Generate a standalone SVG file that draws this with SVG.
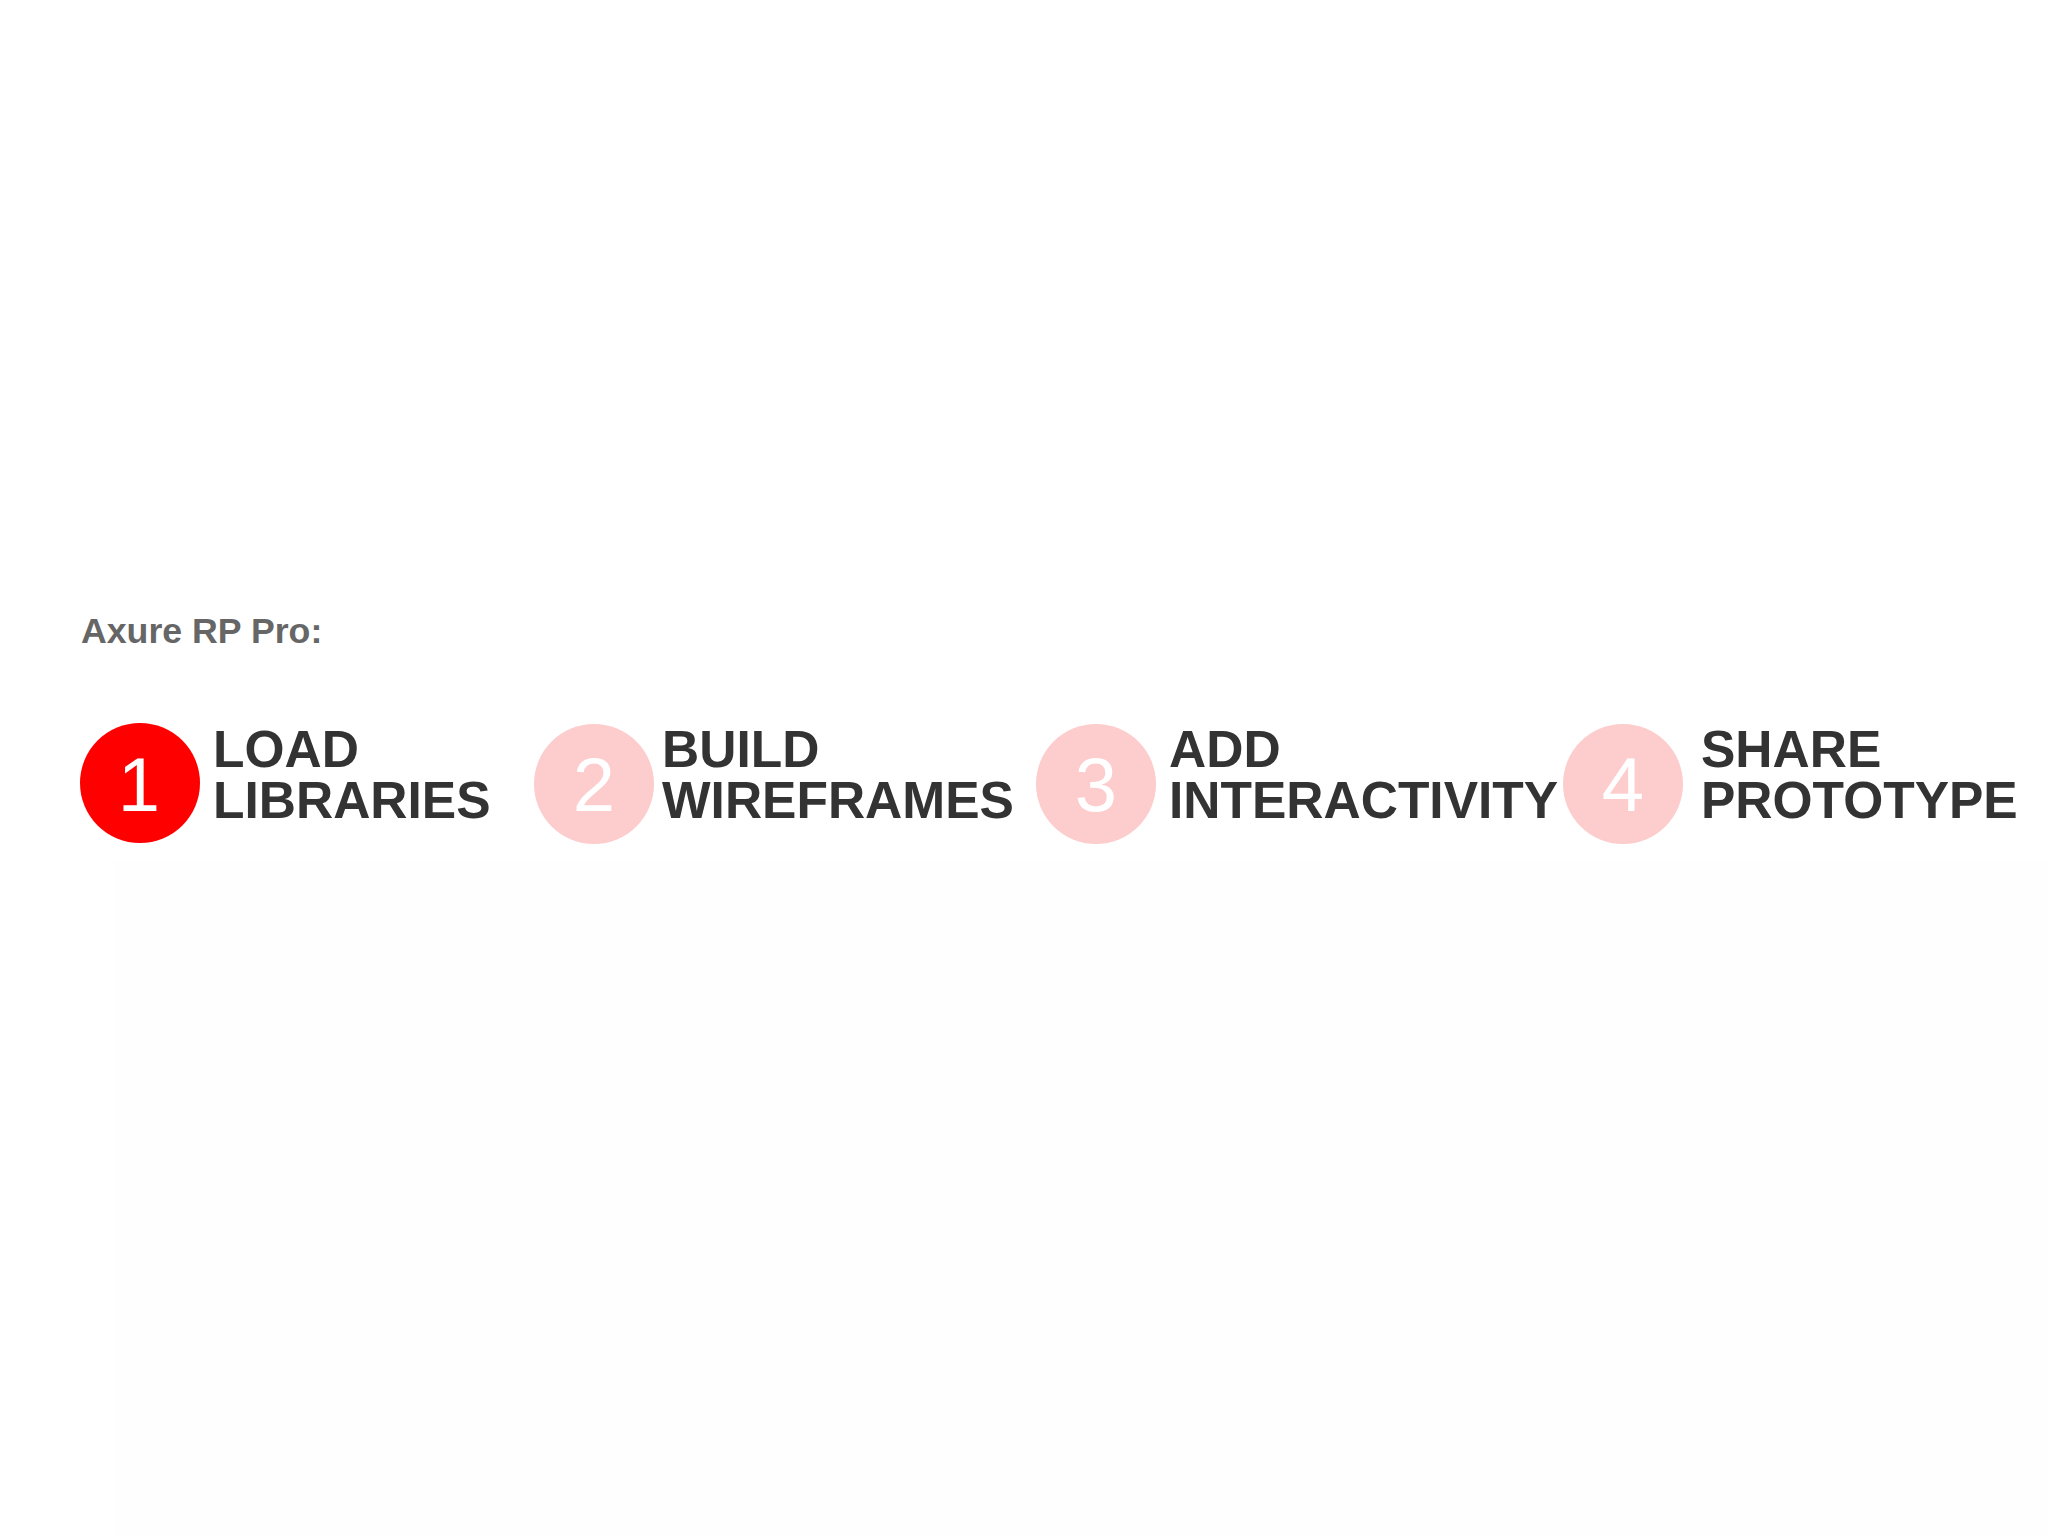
<svg xmlns="http://www.w3.org/2000/svg" width="2048" height="1536" viewBox="0 0 2048 1536">
<style>
.title{font-family:"Liberation Sans",Arial,sans-serif;font-weight:bold;font-size:35.7px;fill:#666666}
.label{font-family:"Liberation Sans",Arial,sans-serif;font-weight:bold;font-size:51.5px;fill:#333333}
.num{font-family:"Liberation Sans",Arial,sans-serif;font-size:76px;fill:#ffffff;text-anchor:middle}
.active{fill:#ff0000}
.idle{fill:#fdcccc}
</style>
<rect x="0" y="0" width="2048" height="1536" fill="#ffffff"/>
<rect x="113" y="862" width="1935" height="674" fill="#fefefe"/>
<text class="title" x="81" y="643">Axure RP Pro:</text>
<g id="step1">
<circle class="active" cx="140" cy="783" r="60"/>
<text class="num" x="139" y="811">1</text>
<text class="label" x="213" y="767">LOAD</text>
<text class="label" x="213" y="818">LIBRARIES</text>
</g>
<g id="step2">
<circle class="idle" cx="594" cy="784" r="60"/>
<text class="num" x="594" y="811">2</text>
<text class="label" x="662" y="767">BUILD</text>
<text class="label" x="662" y="818">WIREFRAMES</text>
</g>
<g id="step3">
<circle class="idle" cx="1096" cy="784" r="60"/>
<text class="num" x="1096" y="811">3</text>
<text class="label" x="1169" y="767">ADD</text>
<text class="label" x="1169" y="818">INTERACTIVITY</text>
</g>
<g id="step4">
<circle class="idle" cx="1623" cy="784" r="60"/>
<text class="num" x="1623" y="811">4</text>
<text class="label" x="1701" y="767">SHARE</text>
<text class="label" x="1701" y="818">PROTOTYPE</text>
</g>
<g id="connectors"></g>
</svg>
